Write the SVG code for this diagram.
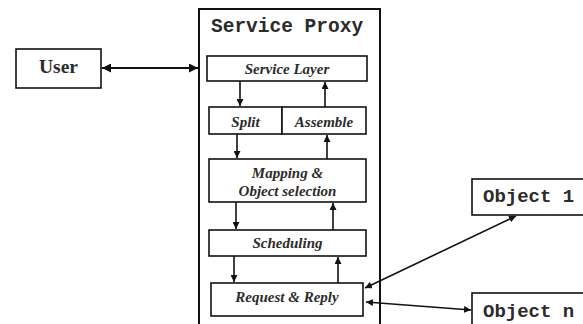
<svg xmlns="http://www.w3.org/2000/svg" width="583" height="324" viewBox="0 0 583 324">
<style>
.box{fill:#fff;stroke:#111;stroke-width:1.6}
.outer{fill:#fff;stroke:#111;stroke-width:2}
.mono{font-family:"Liberation Mono","DejaVu Sans Mono",monospace;font-weight:bold;fill:#2b2b2b}
.serif{font-family:"Liberation Serif","DejaVu Serif",serif;font-weight:bold;fill:#2b2b2b}
.it{font-family:"Liberation Serif","DejaVu Serif",serif;font-weight:bold;font-style:italic;fill:#2b2b2b;font-size:15px;text-anchor:middle}
.ln{stroke:#111;stroke-width:1.6;fill:none}
.ln2{stroke:#111;stroke-width:2;fill:none}
</style>
<defs>
<marker id="ah" viewBox="0 0 10 10" refX="10" refY="5" markerWidth="7" markerHeight="7" markerUnits="userSpaceOnUse" orient="auto-start-reverse">
<path d="M0,0 L10,5 L0,10 z" fill="#111"/>
</marker>
<marker id="ah2" viewBox="0 0 10 10" refX="10" refY="5" markerWidth="9" markerHeight="9" markerUnits="userSpaceOnUse" orient="auto-start-reverse">
<path d="M0,0 L10,5 L0,10 z" fill="#111"/>
</marker>
</defs>
<rect width="583" height="324" fill="#fff"/>
<g id="service-proxy">
<rect class="outer" x="199" y="9" width="181" height="330"/>
<text class="mono" x="211" y="32" font-size="19.5">Service Proxy</text>
</g>
<g id="user">
<rect class="box" x="16" y="49" width="85" height="39"/>
<text class="serif" x="58.5" y="73" font-size="19.5" text-anchor="middle">User</text>
</g>
<g id="service-layer">
<rect class="box" x="207" y="56" width="160" height="25"/>
<text class="it" x="287" y="73.5">Service Layer</text>
</g>
<g id="split">
<rect class="box" x="209" y="107" width="73" height="27"/>
<text class="it" x="245.5" y="126.5">Split</text>
</g>
<g id="assemble">
<rect class="box" x="282" y="107" width="84" height="27"/>
<text class="it" x="324" y="126.5">Assemble</text>
</g>
<g id="mapping">
<rect class="box" x="209" y="159" width="157" height="43"/>
<text class="it" x="287.5" y="178">Mapping &amp;</text>
<text class="it" x="287.5" y="195.5">Object selection</text>
</g>
<g id="scheduling">
<rect class="box" x="209" y="230" width="157" height="26"/>
<text class="it" x="287.5" y="248">Scheduling</text>
</g>
<g id="request-reply">
<rect class="box" x="211" y="283" width="152" height="33"/>
<text class="it" x="287" y="302">Request &amp; Reply</text>
</g>
<g id="object-1">
<rect class="box" x="472" y="179" width="120" height="36"/>
<text class="mono" x="483" y="202" font-size="19">Object 1</text>
</g>
<g id="object-n">
<rect class="box" x="472" y="293" width="120" height="40"/>
<text class="mono" x="483" y="317" font-size="19">Object n</text>
</g>
<g id="connectors">
<line class="ln2" x1="102" y1="68" x2="198" y2="68" marker-start="url(#ah2)" marker-end="url(#ah2)"/>
<line class="ln" x1="240" y1="81" x2="240" y2="106" marker-end="url(#ah)"/>
<line class="ln" x1="325" y1="107" x2="325" y2="82" marker-end="url(#ah)"/>
<line class="ln" x1="237" y1="134" x2="237" y2="158" marker-end="url(#ah)"/>
<line class="ln" x1="327" y1="159" x2="327" y2="135" marker-end="url(#ah)"/>
<line class="ln" x1="236" y1="202" x2="236" y2="229" marker-end="url(#ah)"/>
<line class="ln" x1="333" y1="230" x2="333" y2="203" marker-end="url(#ah)"/>
<line class="ln" x1="234" y1="256" x2="234" y2="282" marker-end="url(#ah)"/>
<line class="ln" x1="338" y1="283" x2="338" y2="257" marker-end="url(#ah)"/>
<line class="ln" x1="516" y1="216" x2="365" y2="288" marker-start="url(#ah)" marker-end="url(#ah)"/>
<line class="ln" x1="366" y1="302" x2="471" y2="310" marker-start="url(#ah)" marker-end="url(#ah)"/>
</g>
</svg>
